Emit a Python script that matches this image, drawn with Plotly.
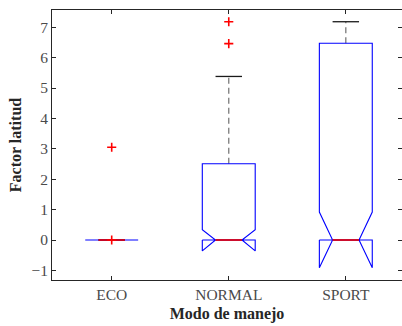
import plotly.graph_objects as go

# Box statistics per driving mode
modes = ["ECO", "NORMAL", "SPORT"]
q1 = [0.0, 0.0, 0.0]
median = [0.0, 0.0, 0.0]
q3 = [0.0, 2.51, 6.47]
whisker_lo = [0.0, 0.0, 0.0]
whisker_hi = [0.0, 5.38, 7.18]
notch_lo = [0.0, -0.36, -0.91]
notch_hi = [0.0, 0.34, 0.92]
outliers = [[3.05, 0.0], [7.18, 6.46], []]

BOX_HW = 0.226          # half box width (x units)
NOTCH_HW = BOX_HW / 2   # half width at the notch / caps
BLUE = "#0000ff"
RED = "#ff0000"
SERIF = "Liberation Serif, DejaVu Serif, serif"

fig = go.Figure()

for i, name in enumerate(modes):
    x = i + 1
    # whiskers (dashed) from box edges to the extremes
    for a, b in ((q3[i], whisker_hi[i]), (whisker_lo[i], q1[i])):
        if b > a:
            fig.add_trace(go.Scatter(x=[x, x], y=[a, b], mode="lines",
                                     line=dict(color="#7a7a7a", width=1.3, dash="6px,4px"),
                                     hoverinfo="skip", showlegend=False))
    # whisker caps
    for w in (whisker_hi[i], whisker_lo[i]):
        fig.add_trace(go.Scatter(x=[x - NOTCH_HW, x + NOTCH_HW], y=[w, w], mode="lines",
                                 line=dict(color="#1a1a1a", width=1.3),
                                 hoverinfo="skip", showlegend=False))
    # notched box outline
    bx = [x - BOX_HW, x - BOX_HW, x - NOTCH_HW, x - BOX_HW, x - BOX_HW,
          x + BOX_HW, x + BOX_HW, x + NOTCH_HW, x + BOX_HW, x + BOX_HW, x - BOX_HW]
    by = [q1[i], notch_lo[i], median[i], notch_hi[i], q3[i],
          q3[i], notch_hi[i], median[i], notch_lo[i], q1[i], q1[i]]
    fig.add_trace(go.Scatter(x=bx, y=by, mode="lines",
                             line=dict(color=BLUE, width=1.1),
                             hoverinfo="skip", showlegend=False))
    # median
    fig.add_trace(go.Scatter(x=[x - NOTCH_HW, x + NOTCH_HW], y=[median[i], median[i]],
                             mode="lines", line=dict(color=RED, width=1.5),
                             hoverinfo="skip", showlegend=False))
    # outliers
    if outliers[i]:
        fig.add_trace(go.Scatter(x=[x] * len(outliers[i]), y=outliers[i], mode="markers",
                                 marker=dict(symbol="cross-thin", size=6.5,
                                             line=dict(color=RED, width=1.6)),
                                 hoverinfo="skip", showlegend=False))

# invisible trace to carry the right-hand tick axis
fig.add_trace(go.Scatter(x=[1], y=[0], yaxis="y2", mode="markers",
                         marker=dict(opacity=0), hoverinfo="skip", showlegend=False))

axis_font = dict(family=SERIF, size=15.5, color="#4a4a4a")
title_font = dict(family=SERIF, size=16, color="#262626")
yr = [-1.316, 7.566]

fig.update_layout(
    width=402, height=326,
    margin=dict(l=52, r=0, t=10, b=46),
    plot_bgcolor="white", paper_bgcolor="white",
    xaxis=dict(range=[0.49, 3.48], tickvals=[1, 2, 3], ticktext=modes,
               ticks="inside", ticklen=4, tickcolor="#262626",
               showline=True, linecolor="#262626", linewidth=1, mirror="ticks",
               showgrid=False, zeroline=False, tickfont=axis_font,
               title=dict(text="<b>Modo de manejo</b>", standoff=6, font=title_font)),
    yaxis=dict(range=yr, tickvals=list(range(-1, 8)),
               ticks="inside", ticklen=4, tickcolor="#262626",
               showline=True, linecolor="#262626", linewidth=1,
               showgrid=False, zeroline=False, tickfont=axis_font,
               title=dict(text="<b>Factor latitud</b>", standoff=5, font=title_font)),
    yaxis2=dict(range=yr, overlaying="y", side="right", tickvals=list(range(-1, 8)),
                ticks="inside", ticklen=4, tickcolor="#262626", showticklabels=False,
                showline=False, showgrid=False, zeroline=False),
)

fig.write_html("out.html")
